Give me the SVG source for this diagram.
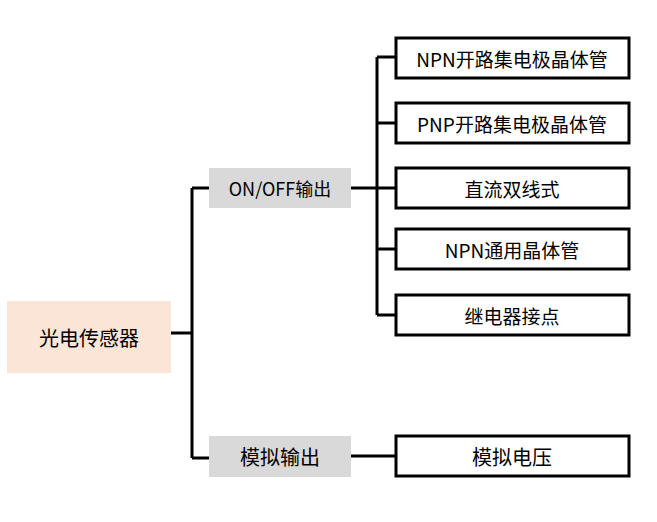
<svg xmlns="http://www.w3.org/2000/svg" width="657" height="522" viewBox="0 0 657 522">
<style>
text{font-family:"Noto Sans CJK SC","Microsoft YaHei",sans-serif;font-size:19px;fill:#000;text-anchor:middle;dominant-baseline:central}
.leaf{fill:#fff;stroke:#000;stroke-width:3}
.mid{fill:#D9D9D9}
.root{fill:#FBE5D6}
.c{fill:none;stroke:#000;stroke-width:3}
</style>
<rect width="657" height="522" fill="#fff"/>
<g id="connectors">
<path class="c" d="M171 333H192M192 188V458M192 188H209M192 458H209"/>
<path class="c" d="M351 188H377M377 57V315M377 57H396M377 123H396M377 188H396M377 249H396M377 315H396"/>
<path class="c" d="M351 456H396"/>
</g>
<g id="root"><rect class="root" x="7" y="301" width="164" height="72"/><text x="89" y="337" style="font-size:20px">光电传感器</text></g>
<g id="onoff"><rect class="mid" x="209" y="168" width="142" height="40"/><text x="280" y="188" style="font-size:18px">ON/OFF输出</text></g>
<g id="analog"><rect class="mid" x="209" y="436" width="142" height="41"/><text x="280" y="456" style="font-size:20px">模拟输出</text></g>
<g id="n1"><rect class="leaf" x="396" y="38" width="233" height="40"/><text x="512" y="58">NPN开路集电极晶体管</text></g>
<g id="n2"><rect class="leaf" x="396" y="103" width="233" height="40"/><text x="512" y="123">PNP开路集电极晶体管</text></g>
<g id="n3"><rect class="leaf" x="396" y="168" width="233" height="40"/><text x="512" y="188">直流双线式</text></g>
<g id="n4"><rect class="leaf" x="396" y="229" width="233" height="40"/><text x="512" y="249">NPN通用晶体管</text></g>
<g id="n5"><rect class="leaf" x="396" y="295" width="233" height="40"/><text x="512" y="315">继电器接点</text></g>
<g id="n6"><rect class="leaf" x="396" y="436" width="233" height="40"/><text x="512" y="456" style="font-size:20px">模拟电压</text></g>
</svg>
